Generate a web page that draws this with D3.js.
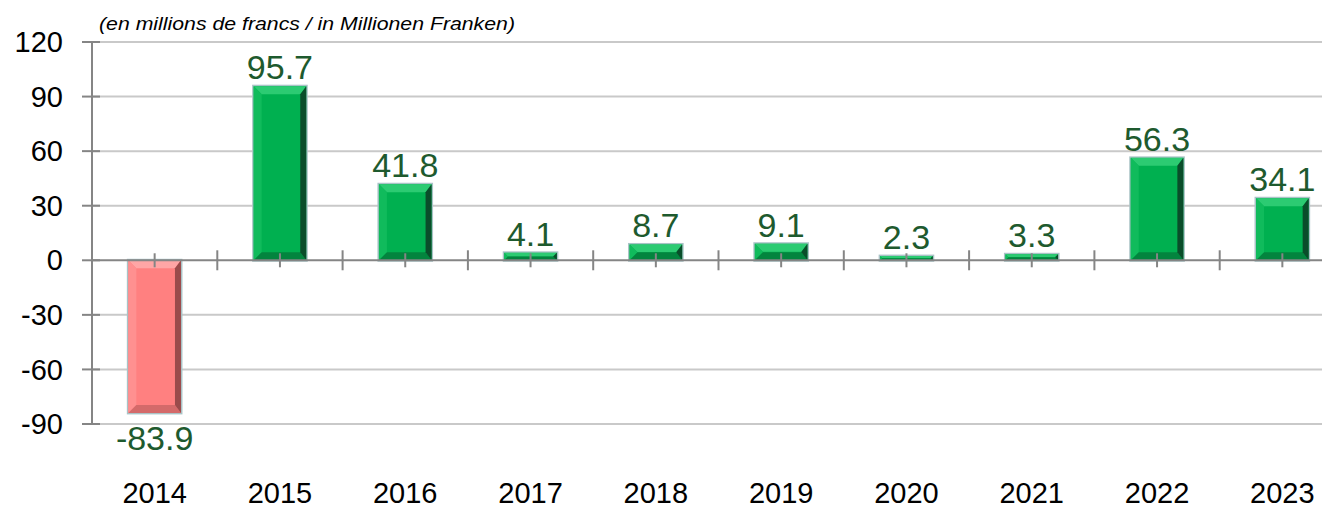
<!DOCTYPE html>
<html>
<meta charset="utf-8">
<style>
  body { margin: 0; background: #fff; }
  svg { display: block; font-family: Arial, "Liberation Sans", sans-serif; }
  .grid line { stroke: #c9c9c9; stroke-width: 2; }
  .ytick text { font-size: 29px; fill: #000; }
  .xlab { font-size: 29px; fill: #000; }
  .val { font-size: 34px; fill: #1e5a2e; }
  .unit { font-size: 19px; font-style: italic; fill: #000; }
</style>
<body>
<script src="https://d3js.org/d3.v7.min.js"></script>
<script>
  // values in millions of francs
  let years = ["2014", "2015", "2016", "2017", "2018", "2019", "2020", "2021", "2022", "2023"];
  let values = [-83.9, 95.7, 41.8, 4.1, 8.7, 9.1, 2.3, 3.3, 56.3, 34.1];
  let yTicks = [120, 90, 60, 30, 0, -30, -60, -90];

  let width = 1322, height = 510;

  let svg = d3.select("body").append("svg")
    .attr("width", width)
    .attr("height", height);

  // the plot runs a bit past the right edge of the window, like the original
  let x = d3.scaleBand()
    .domain(years)
    .range([92, 1345])
    .paddingInner(0.58)
    .paddingOuter(0.29);

  let y = d3.scaleLinear()
    .domain([-90, 120])
    .range([424, 42]);

  let step = x.step();
  let left = 92;

  // gridlines
  svg.append("g").attr("class", "grid")
    .selectAll("line")
    .data(yTicks.filter(d => d !== 0))
    .join("line")
    .attr("x1", left).attr("x2", width)
    .attr("y1", d => y(d)).attr("y2", d => y(d));

  // y axis line + ticks
  svg.append("line")
    .attr("x1", left).attr("x2", left)
    .attr("y1", y(120)).attr("y2", y(-90))
    .attr("stroke", "#858585").attr("stroke-width", 2);

  let yt = svg.append("g").selectAll("g")
    .data(yTicks)
    .join("g").attr("class", "ytick")
    .attr("transform", d => `translate(0,${y(d)})`);
  yt.append("line")
    .attr("x1", 82).attr("x2", 100)
    .attr("stroke", "#858585").attr("stroke-width", 2);
  yt.append("text")
    .attr("x", 63).attr("dy", "0.35em")
    .attr("text-anchor", "end")
    .text(d => d);

  // bars with a bevel look
  let palette = {
    pos: { main: "#00b050", top: "#2ccb72", left: "#10bb5c", right: "#0a4d2a", bottom: "#03843e" },
    neg: { main: "#ff8080", top: "#ffa6a6", left: "#ff9090", right: "#9a4b4b", bottom: "#d46a6a" }
  };

  let bars = svg.append("g").selectAll("g")
    .data(years.map((yr, i) => ({ year: yr, value: values[i] })))
    .join("g");

  bars.each(function(d) {
    let g = d3.select(this);
    let c = d.value < 0 ? palette.neg : palette.pos;
    let x0 = x(d.year), x1 = x0 + x.bandwidth();
    let y0 = Math.min(y(0), y(d.value)), y1 = Math.max(y(0), y(d.value));
    let h = y1 - y0;
    let b = Math.min(8, h / 2);
    let br = Math.min(6, h / 2);

    // outline
    g.append("rect")
      .attr("x", x0 - 1.5).attr("y", y0 - 1.5)
      .attr("width", x1 - x0 + 3).attr("height", h + 3)
      .attr("fill", "#a9c3c6");
    g.append("rect")
      .attr("x", x0).attr("y", y0)
      .attr("width", x1 - x0).attr("height", h)
      .attr("fill", c.main);
    let pts = a => a.map(p => p.join(",")).join(" ");
    g.append("polygon").attr("fill", c.top)
      .attr("points", pts([[x0, y0], [x1, y0], [x1 - br, y0 + b], [x0 + b, y0 + b]]));
    g.append("polygon").attr("fill", c.left)
      .attr("points", pts([[x0, y0], [x0 + b, y0 + b], [x0 + b, y1 - b], [x0, y1]]));
    g.append("polygon").attr("fill", c.bottom)
      .attr("points", pts([[x0, y1], [x0 + b, y1 - b], [x1 - br, y1 - b], [x1, y1]]));
    g.append("polygon").attr("fill", c.right)
      .attr("points", pts([[x1, y0], [x1 - br, y0 + b], [x1 - br, y1 - b], [x1, y1]]));
  });

  // zero line with ticks at boundaries and centers
  svg.append("line")
    .attr("x1", left).attr("x2", width)
    .attr("y1", y(0)).attr("y2", y(0))
    .attr("stroke", "#858585").attr("stroke-width", 2);

  svg.append("g").selectAll("line")
    .data(d3.range(1, years.length))
    .join("line")
    .attr("x1", i => left + i * step).attr("x2", i => left + i * step)
    .attr("y1", y(0) - 10).attr("y2", y(0) + 10)
    .attr("stroke", "#858585").attr("stroke-width", 2);

  svg.append("g").selectAll("line")
    .data(years)
    .join("line")
    .attr("x1", d => x(d) + x.bandwidth() / 2).attr("x2", d => x(d) + x.bandwidth() / 2)
    .attr("y1", y(0) - 7).attr("y2", y(0) + 7)
    .attr("stroke", "#858585").attr("stroke-width", 2);

  // value labels
  svg.append("g").selectAll("text")
    .data(years.map((yr, i) => ({ year: yr, value: values[i] })))
    .join("text")
    .attr("class", "val")
    .attr("text-anchor", "middle")
    .attr("x", d => x(d.year) + x.bandwidth() / 2)
    .attr("y", d => d.value < 0 ? y(d.value) + 37 : y(d.value) - 7)
    .text(d => d.value.toFixed(1));

  // year labels
  svg.append("g").selectAll("text")
    .data(years)
    .join("text")
    .attr("class", "xlab")
    .attr("text-anchor", "middle")
    .attr("x", d => x(d) + x.bandwidth() / 2)
    .attr("y", 503)
    .text(d => d);

  svg.append("text")
    .attr("class", "unit")
    .attr("x", 99).attr("y", 30)
    .attr("textLength", 416)
    .attr("lengthAdjust", "spacingAndGlyphs")
    .text("(en millions de francs / in Millionen Franken)");
</script>
</body>
</html>
